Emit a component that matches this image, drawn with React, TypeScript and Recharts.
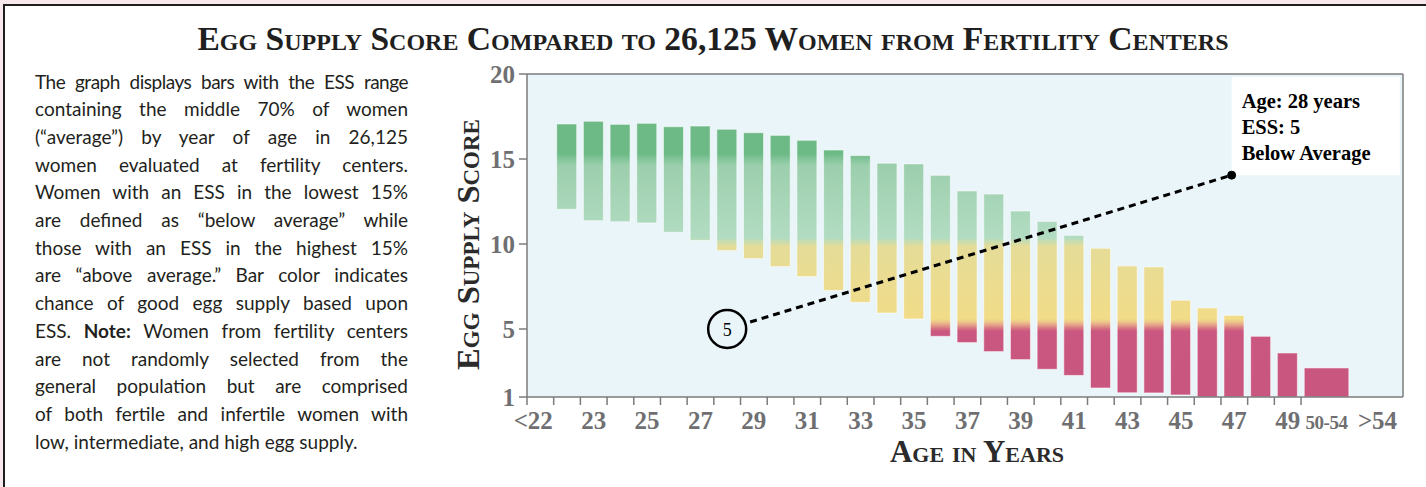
import React from 'react';
import {
  ComposedChart,
  Bar,
  XAxis,
  YAxis,
  CartesianGrid,
  ReferenceLine,
  ReferenceDot,
  ReferenceArea,
} from 'recharts';

// ---------- data ----------
const ageCategories = [
  '<22', '22', '23', '24', '25', '26', '27', '28', '29', '30', '31', '32', '33', '34', '35',
  '36', '37', '38', '39', '40', '41', '42', '43', '44', '45', '46', '47', '48', '49', '50-54', '>54',
];
// ESS range containing the middle 70% of women (low / high end of each bar)
const essLow = [
  null, 12.04, 11.37, 11.31, 11.24, 10.69, 10.21, 9.61, 9.14, 8.67, 8.08, 7.27, 6.57, 5.94, 5.59,
  4.57, 4.2, 3.67, 3.2, 2.63, 2.27, 1.53, 1.25, 1.24, 1.12, 1.0, 1.0, 1.0, 1.0, 1.0, null,
];
const essHigh = [
  null, 17.06, 17.22, 17.04, 17.1, 16.9, 16.94, 16.75, 16.55, 16.39, 16.1, 15.53, 15.2, 14.75, 14.71,
  14.04, 13.12, 12.94, 11.94, 11.33, 10.51, 9.75, 8.71, 8.65, 6.69, 6.24, 5.8, 4.57, 3.59, 2.71, null,
];
const xTickLabels = ['<22', '23', '25', '27', '29', '31', '33', '35', '37', '39', '41', '43', '45', '47', '49', '50-54', '>54'];
const yTicks = [1, 5, 10, 15, 20];
const highlight = { age: '28', ess: 5, lines: ['Age: 28 years', 'ESS: 5', 'Below Average'] };
const calloutCorner = { x: 47.4, y: 14.05 };

const paragraph = [
  'The graph displays bars with the ESS range',
  'containing the middle 70% of women',
  '(\u201caverage\u201d) by year of age in 26,125',
  'women evaluated at fertility centers.',
  'Women with an ESS in the lowest 15%',
  'are defined as \u201cbelow average\u201d while',
  'those with an ESS in the highest 15%',
  'are \u201cabove average.\u201d Bar color indicates',
  'chance of good egg supply based upon',
  'ESS. |Note:| Women from fertility centers',
  'are not randomly selected from the',
  'general population but are comprised',
  'of both fertile and infertile women with',
  'low, intermediate, and high egg supply.',
];

// ---------- layout of the category axis (grouped ages get a wider slot) ----------
const GROUP_SPAN = 1.91;
const BAR_INSET = 0.12;
const slots = (() => {
  let start = 21;
  return ageCategories.map((c, i) => {
    const span = c.includes('-') || c.startsWith('>') ? GROUP_SPAN : 1;
    const s = { cat: c, start, span, center: start + span / 2, lo: essLow[i], hi: essHigh[i] };
    start += span;
    return s;
  });
})();
const X_MIN = slots[0].start;
const X_MAX = slots[slots.length - 1].start + slots[slots.length - 1].span;

const chartData = slots.map((s) => ({
  cat: s.cat,
  pos: s.center,
  range: s.lo != null && s.hi != null && s.span === 1 ? [s.lo, s.hi] : null,
}));
const groupedBars = slots.filter((s) => s.span > 1 && s.lo != null && s.hi != null);

const k = (v: number) => v.toFixed(4);
const tickMap = new Map<string, any>();
slots.slice(0, -1).forEach((s) => tickMap.set(k(s.start), { kind: 'mark' }));
xTickLabels.forEach((lab) => {
  const s = slots.find((q) => q.cat === lab)!;
  if (lab.startsWith('<')) {
    tickMap.set(k(s.start + s.span - 0.03), { kind: 'label', text: lab, anchor: 'end' });
  } else {
    tickMap.set(k(s.center), { kind: 'label', text: lab, anchor: 'middle', small: lab.includes('-') });
  }
});
const xTicks = Array.from(tickMap.keys()).map(Number).sort((a, b) => a - b);

const highlightX = slots.find((s) => s.cat === highlight.age)!.center;

// ---------- styles ----------
const SERIF = "'Liberation Serif', 'Times New Roman', serif";
const PLOT_BG = '#eaf5fa';
const AXIS = '#7b7b7d';
const TICK = '#6f6f72';
const colorStops: [number, string][] = [
  [20, '#6cba85'],
  [15.3, '#6dba86'],
  [14.95, '#86c69c'],
  [14.6, '#9ccfad'],
  [10.35, '#b2dcc2'],
  [10.1, '#cddcac'],
  [9.85, '#e5dc98'],
  [5.6, '#f1dc88'],
  [5.42, '#eec78a'],
  [5.2, '#e29a86'],
  [5.0, '#d46c82'],
  [4.85, '#c9577f'],
  [1, '#c9567f'],
];

const GradientRect = ({ x, y, width, height, lo, hi, id }: any) => {
  if (!height || !width) return null;
  const ppu = height / (hi - lo);
  const yTop = y - (20 - hi) * ppu;
  const yBot = y + height + (lo - 1) * ppu;
  return (
    <g>
      <defs>
        <linearGradient id={id} gradientUnits="userSpaceOnUse" x1={0} x2={0} y1={yTop} y2={yBot}>
          {colorStops.map(([v, c], i) => (
            <stop key={i} offset={(20 - v) / 19} stopColor={c} />
          ))}
        </linearGradient>
      </defs>
      <rect x={x} y={y} width={width} height={height} fill={`url(#${id})`} stroke="#ffffff" strokeOpacity={0.55} strokeWidth={1} />
    </g>
  );
};

const BarShape = (props: any) => {
  const { x, y, width, height, payload, index } = props;
  if (!payload.range) return null;
  const [lo, hi] = payload.range;
  return <GradientRect x={x} y={y} width={width} height={height} lo={lo} hi={hi} id={`essgrad-${index}`} />;
};

const XTick = (props: any) => {
  const { x, y, payload } = props;
  const t = tickMap.get(k(payload.value));
  if (!t) return null;
  if (t.kind === 'mark') {
    return <line x1={x} x2={x} y1={y} y2={y + 8} stroke={AXIS} strokeWidth={1.5} />;
  }
  return (
    <text
      x={x}
      y={y + 32}
      textAnchor={t.anchor}
      fontFamily={SERIF}
      fontWeight={700}
      fontSize={t.small ? 19 : 25}
      fill={TICK}
      letterSpacing={t.small ? -0.5 : 0}
    >
      {t.text}
    </text>
  );
};

const YLabel = (props: any) => {
  const vb = props.viewBox || {};
  const cx = vb.x + 28;
  const cy = vb.y + vb.height / 2 + 9;
  return (
    <text
      x={cx}
      y={cy}
      transform={`rotate(-90, ${cx}, ${cy})`}
      textAnchor="middle"
      dominantBaseline="central"
      fontFamily={SERIF}
      fontWeight={700}
      fontSize={32.5}
      fill="#2b2b2b"
      style={{ fontVariant: 'small-caps' }}
    >
      Egg Supply Score
    </text>
  );
};

const XLabel = (props: any) => {
  const vb = props.viewBox || {};
  return (
    <text
      x={vb.x + vb.width / 2 + 12}
      y={vb.y + 65}
      textAnchor="middle"
      fontFamily={SERIF}
      fontWeight={700}
      fontSize={31}
      fill="#2b2b2b"
      style={{ fontVariant: 'small-caps' }}
    >
      Age in Years
    </text>
  );
};

const CalloutText = (props: any) => {
  const vb = props.viewBox || {};
  return (
    <g>
      {highlight.lines.map((l, i) => (
        <text
          key={i}
          x={vb.x + 10}
          y={vb.y + 31 + i * 26}
          fontFamily={SERIF}
          fontWeight={700}
          fontSize={20.5}
          fill="#000"
        >
          {l}
        </text>
      ))}
    </g>
  );
};

const HighlightCircle = (props: any) => {
  const { cx, cy } = props;
  return (
    <g>
      <circle cx={cx} cy={cy} r={19} fill={PLOT_BG} stroke="#000" strokeWidth={2.5} />
      <text x={cx} y={cy + 6.5} textAnchor="middle" fontFamily={SERIF} fontSize={18} fill="#000">
        {highlight.ess}
      </text>
    </g>
  );
};

const renderLine = (line: string) => {
  const parts = line.split('|');
  return parts.map((p, i) => (i % 2 === 1 ? <b key={i}>{p}</b> : <React.Fragment key={i}>{p}</React.Fragment>));
};

export default function App() {
  return (
    <div
      style={{
        position: 'absolute',
        left: 0,
        top: 0,
        width: 1426,
        height: 487,
        background: '#f7e9eb',
        overflow: 'hidden',
      }}
    >
      <div
        style={{
          position: 'absolute',
          left: 3,
          top: 4,
          width: 1440,
          height: 500,
          background: '#ffffff',
          borderLeft: '2px solid #1e1e1e',
          borderTop: '2px solid #1e1e1e',
        }}
      />
      <div
        style={{
          position: 'absolute',
          left: 0,
          top: 24,
          width: 1426,
          textAlign: 'center',
          fontFamily: SERIF,
          fontWeight: 700,
          fontSize: 33.6,
          lineHeight: '30px',
          fontVariant: 'small-caps',
          color: '#1f1f1f',
          whiteSpace: 'nowrap',
        }}
      >
        Egg Supply Score Compared to 26,125 Women from Fertility Centers
      </div>
      <div
        style={{
          position: 'absolute',
          left: 35,
          top: 67.5,
          width: 373,
          fontFamily: "Lato, 'Open Sans', sans-serif",
          fontSize: 19,
          lineHeight: '27.7px',
          color: '#231f20',
        }}
      >
        {paragraph.map((line, i) => (
          <div
            key={i}
            style={{
              whiteSpace: 'nowrap',
              textAlign: i === paragraph.length - 1 ? 'left' : 'justify',
              textAlignLast: i === paragraph.length - 1 ? 'left' : 'justify',
              letterSpacing: i === 0 ? -0.5 : 0,
            }}
          >
            {renderLine(line)}
          </div>
        ))}
      </div>
      <div style={{ position: 'absolute', left: 440, top: 60 }}>
        <ComposedChart
          width={986}
          height={420}
          data={chartData}
          margin={{ top: 14, right: 23, bottom: 0, left: 0 }}
        >
          <CartesianGrid horizontal={false} vertical={false} fill={PLOT_BG} fillOpacity={1} />
          <XAxis
            xAxisId="ticks"
            type="number"
            dataKey="pos"
            domain={[X_MIN, X_MAX]}
            allowDataOverflow
            ticks={xTicks}
            interval={0}
            tick={<XTick />}
            tickLine={false}
            tickSize={0}
            tickMargin={0}
            axisLine={{ stroke: AXIS, strokeWidth: 1.5 }}
            height={83}
            label={{ content: <XLabel /> }}
          />
          <XAxis
            xAxisId={0}
            orientation="top"
            height={0}
            type="number"
            dataKey="pos"
            domain={[X_MIN, X_MAX]}
            allowDataOverflow
            ticks={[X_MIN, X_MAX]}
            hide
          />
          <YAxis
            type="number"
            domain={[1, 20]}
            ticks={yTicks}
            interval={0}
            allowDataOverflow
            width={87}
            tickSize={8}
            tickMargin={4}
            tickLine={{ stroke: AXIS, strokeWidth: 1.5 }}
            axisLine={{ stroke: AXIS, strokeWidth: 1.5 }}
            tick={{ fill: TICK, fontFamily: SERIF, fontWeight: 700, fontSize: 25 }}
            label={{ content: <YLabel /> }}
          />
          <ReferenceLine y={20} stroke={AXIS} strokeWidth={1.5} />
          <ReferenceLine x={X_MAX} stroke={AXIS} strokeWidth={1.5} />
          <ReferenceArea
            x1={calloutCorner.x}
            x2={X_MAX - 0.12}
            y1={calloutCorner.y}
            y2={19.82}
            fill="#ffffff"
            fillOpacity={1}
            stroke="none"
            label={{ content: <CalloutText /> }}
          />
          {groupedBars.map((s, i) => (
            <ReferenceArea
              key={s.cat}
              x1={s.start + BAR_INSET}
              x2={s.start + s.span - BAR_INSET}
              y1={s.lo as number}
              y2={s.hi as number}
              shape={(p: any) => (
                <GradientRect x={p.x} y={p.y} width={p.width} height={p.height} lo={s.lo} hi={s.hi} id={`essgrad-g${i}`} />
              )}
            />
          ))}
          <Bar dataKey="range" barSize={20} shape={<BarShape />} isAnimationActive={false} />
          <ReferenceLine
            segment={[
              { x: highlightX, y: highlight.ess },
              { x: calloutCorner.x, y: calloutCorner.y },
            ]}
            stroke="#000"
            strokeWidth={3}
            strokeDasharray="7 5"
          />
          <ReferenceDot x={highlightX} y={highlight.ess} r={19} shape={<HighlightCircle />} />
          <ReferenceDot x={calloutCorner.x} y={calloutCorner.y} r={4} fill="#000" stroke="#000" />
        </ComposedChart>
      </div>
    </div>
  );
}
